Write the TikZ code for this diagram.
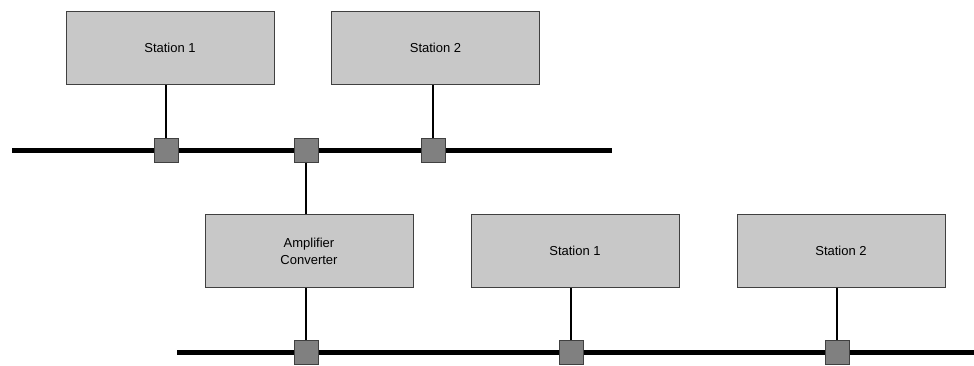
\documentclass[tikz,border=0pt]{standalone}
\usepackage{fontspec}
\setmainfont{Liberation Sans}
\usetikzlibrary{positioning, calc}
\definecolor{boxgray}{HTML}{C8C8C8}
\definecolor{boxedge}{HTML}{404040}
\definecolor{tapgray}{HTML}{808080}
\tikzset{
  station/.style={rectangle, draw=boxedge, fill=boxgray, line width=1pt,
                  minimum width=208pt, minimum height=73pt, inner sep=0pt,
                  align=center, font=\fontsize{13}{17}\selectfont},
  tap/.style={rectangle, draw=boxedge, fill=tapgray, line width=1pt,
              minimum size=24pt, inner sep=0pt},
  bus/.style={line width=5pt, black},
  drop/.style={line width=2pt, black},
}

\begin{document}
\begin{tikzpicture}[x=1pt, y=-1pt]
  \useasboundingbox (0,0) rectangle (974,365);

  % upper segment
  \coordinate (busAl) at (12,150);
  \coordinate (busAr) at (612,150);
  \draw[bus] (busAl) -- (busAr);
  \node[station] (stA1) at (170,47.5) {Station 1};
  \node[station] (stA2) at (435.5,47.5) {Station 2};
  \node[tap] (tapA1) at (166,150) {};
  \node[tap] (tapAamp) at (306,150) {};
  \node[tap] (tapA2) at (433,150) {};

  % lower segment
  \coordinate (busBl) at (177,352);
  \coordinate (busBr) at (974,352);
  \draw[bus] (busBl) -- (busBr);
  \node[station] (amp) at (309,251) {Amplifier\\Converter};
  \node[station] (stB1) at (575,251) {Station 1};
  \node[station] (stB2) at (841,251) {Station 2};
  \node[tap] (tapBamp) at (306,352) {};
  \node[tap] (tapB1) at (571,352) {};
  \node[tap] (tapB2) at (837,352) {};

  \draw[drop] (tapA1.north) -- (tapA1 |- stA1.south);
  \draw[drop] (tapA2.north) -- (tapA2 |- stA2.south);
  \draw[drop] (tapAamp.south) -- (tapAamp |- amp.north);
  \draw[drop] (tapBamp.north) -- (tapBamp |- amp.south);
  \draw[drop] (tapB1.north) -- (tapB1 |- stB1.south);
  \draw[drop] (tapB2.north) -- (tapB2 |- stB2.south);
\end{tikzpicture}
\end{document}
